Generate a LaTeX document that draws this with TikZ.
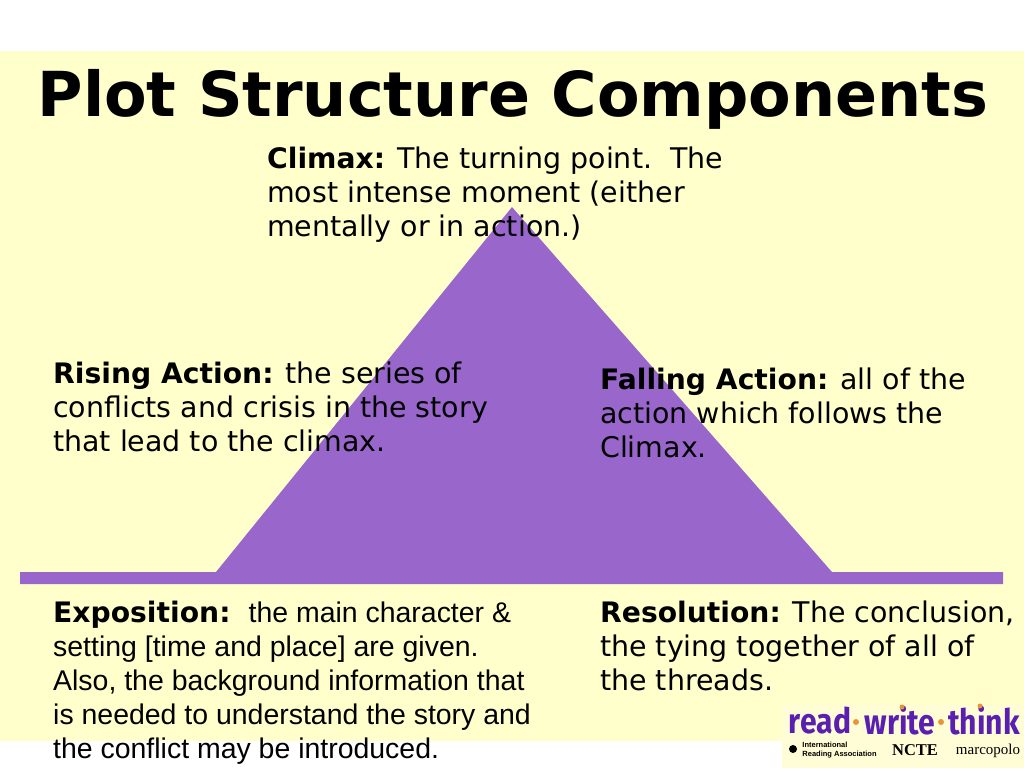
\documentclass[tikz,border=0pt]{standalone}
\usepackage{fontspec}
\setmainfont{DejaVu Sans}
\newfontfamily\arialfont{Liberation Sans}
\newfontfamily\timesfont{Liberation Serif}
\newfontfamily\logofont{Fira Sans}
\definecolor{slideBack}{HTML}{FFFFCC}
\definecolor{logoBack}{HTML}{FFFDD6}
\definecolor{plotPurple}{HTML}{9966CC}
\definecolor{logoPurple}{HTML}{5A1FB0}
\definecolor{logoOrange}{HTML}{E8943A}
\newcommand{\headWord}[1]{{\fontsize{28.2}{34}\selectfont\bfseries #1}}
\begin{document}
\begin{tikzpicture}
[x=1pt,y=-1pt,
  blockDecorate/.style={anchor=north west,inner sep=0pt,align=left,
    font=\fontsize{28.45}{34}\selectfont},
  logoDecorate/.style={inner sep=0pt,text=logoPurple,
    font=\logofont\bfseries\fontsize{35}{35}\selectfont},
  dotDecorate/.style={circle,inner sep=0pt,minimum size=6pt,fill=logoOrange}]
\useasboundingbox (0,0) rectangle (1024,768);
%% background
\fill[white] (0,0) rectangle (1024,768);
\fill[slideBack] (0,51) rectangle (1024,741);
\fill[logoBack] (782,705) rectangle (1024,768);
%% plot line
\fill[plotPurple] (20,572) -- (216,572) -- (512,207) -- (832,572) -- (1003,572)
  -- (1003,584) -- (20,584) -- cycle;
%% title
\node (title) at (513,99) [inner sep=0pt,font=\bfseries\fontsize{62}{62}\selectfont] {Plot Structure Components};
%% text blocks
\node (climax) at (267,147) [blockDecorate] {\headWord{Climax:} The turning point.\ \ The\\most intense moment (either\\mentally or in action.)};
\node (rising) at (53,362) [blockDecorate] {\headWord{Rising Action:} the series of\\conflicts and crisis in the story\\that lead to the climax.};
\node (falling) at (600,368) [blockDecorate] {\headWord{Falling Action:} all of the\\action which follows the\\Climax.};
\node (exposition) at (53,601) [blockDecorate] {\headWord{Exposition:}\ \ {\arialfont the main character \&}\\
  {\arialfont setting [time and place] are given.}\\
  {\arialfont Also, the background information that}\\
  {\arialfont is needed to understand the story and}\\
  {\arialfont the conflict may be introduced.}};
\node (resolution) at (600,601) [blockDecorate] {\headWord{Resolution:} The conclusion,\\the tying together of all of\\the threads.};
%% logo
\node (read) at (820,721) [logoDecorate,xscale=.86] {read};
\node (write) at (900,721) [logoDecorate,xscale=.86] {write};
\node (think) at (984,721) [logoDecorate,xscale=.86] {think};
\node (dotLeft) at (856,722) [dotDecorate] {};
\node (dotRight) at (941,722) [dotDecorate] {};
\node (dotWrite) at (902,707) [dotDecorate,minimum size=5pt] {};
\node (dotThink) at (980,706) [dotDecorate,minimum size=5pt] {};
\node (iraMark) at (793,749) [circle,inner sep=0pt,minimum size=8pt,fill=black] {};
\node (ira) at (839.5,750) [inner sep=0pt,align=left,font=\arialfont\bfseries\fontsize{7.5}{9}\selectfont] {International\\Reading Association};
\node (ncte) at (915,750) [inner sep=0pt,font=\timesfont\bfseries\fontsize{16.5}{17}\selectfont] {NCTE};
\node (marcopolo) at (988,751) [inner sep=0pt,font=\timesfont\fontsize{15}{15}\selectfont] {marcopolo};
\end{tikzpicture}
\end{document}
